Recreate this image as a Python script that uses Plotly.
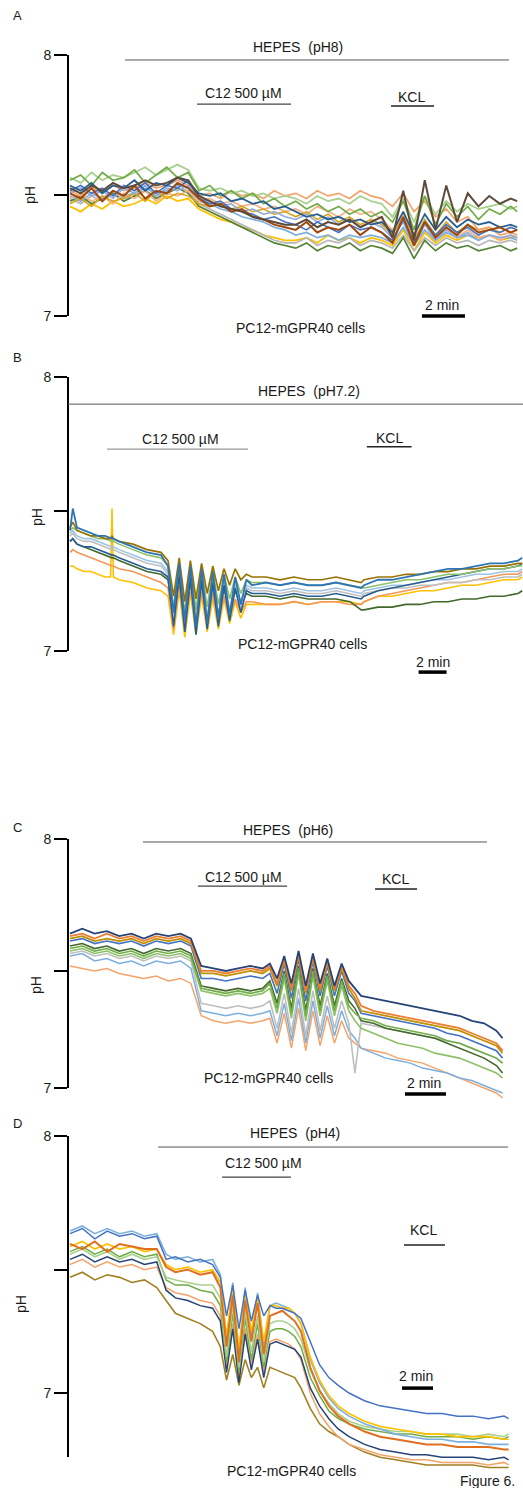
import plotly.graph_objects as go

# ======================= DATA (pH traces) =======================
# ---- Panel A : HEPES pH8 ----
time_a = [0, 0.5, 1, 1.5, 2, 2.5, 3, 3.5, 4, 4.5, 5, 5.5, 6, 6.5, 7, 7.5, 8, 8.5, 9, 9.5, 10,
          10.5, 11, 11.5, 12, 12.5, 13, 13.5, 14, 14.5, 15, 15.5, 16, 16.5, 17, 17.5, 18, 18.5,
          19, 19.5, 20, 20.5, 20.8]
a_green = [7.52,7.54,7.50,7.55,7.52,7.53,7.56,7.51,7.54,7.57,7.53,7.55,7.48,7.50,7.46,7.48,7.45,7.47,7.43,7.45,7.42,7.44,7.41,7.43,7.40,7.42,7.39,7.41,7.38,7.40,7.36,7.44,7.33,7.46,7.35,7.43,7.38,7.42,7.37,7.41,7.39,7.42,7.40]
a_brown = [7.47,7.45,7.49,7.44,7.48,7.46,7.50,7.45,7.48,7.47,7.51,7.49,7.45,7.42,7.43,7.40,7.41,7.38,7.37,7.35,7.34,7.33,7.36,7.32,7.34,7.33,7.35,7.31,7.34,7.32,7.28,7.38,7.27,7.36,7.30,7.34,7.31,7.35,7.32,7.33,7.34,7.32,7.33]
a_navy = [7.50,7.48,7.51,7.47,7.50,7.49,7.52,7.48,7.51,7.50,7.53,7.51,7.47,7.46,7.47,7.44,7.45,7.43,7.44,7.41,7.42,7.40,7.38,7.39,7.37,7.38,7.36,7.37,7.35,7.36,7.32,7.40,7.31,7.39,7.33,7.38,7.34,7.37,7.35,7.36,7.34,7.35,7.34]
a_yellow = [7.42,7.40,7.43,7.41,7.44,7.42,7.43,7.45,7.43,7.46,7.44,7.45,7.41,7.39,7.37,7.36,7.34,7.33,7.31,7.30,7.29,7.29,7.30,7.28,7.31,7.29,7.30,7.28,7.30,7.29,7.27,7.33,7.25,7.32,7.28,7.31,7.29,7.31,7.30,7.31,7.29,7.30,7.30]
a_gray = [7.45,7.43,7.46,7.44,7.47,7.45,7.46,7.48,7.46,7.47,7.49,7.48,7.43,7.41,7.39,7.37,7.35,7.33,7.31,7.29,7.28,7.28,7.30,7.27,7.29,7.28,7.30,7.27,7.29,7.28,7.26,7.31,7.25,7.30,7.27,7.30,7.28,7.29,7.27,7.29,7.28,7.29,7.28]
a_orange = [7.48,7.46,7.49,7.47,7.50,7.48,7.49,7.51,7.49,7.50,7.52,7.50,7.46,7.47,7.45,7.48,7.46,7.47,7.45,7.48,7.46,7.47,7.45,7.48,7.46,7.47,7.45,7.48,7.46,7.45,7.42,7.47,7.40,7.44,7.38,7.41,7.36,7.38,7.33,7.34,7.31,7.32,7.31]
a_lightblue = [7.46,7.44,7.47,7.45,7.48,7.46,7.47,7.49,7.47,7.48,7.50,7.49,7.44,7.43,7.41,7.40,7.38,7.37,7.36,7.34,7.33,7.31,7.32,7.30,7.31,7.29,7.31,7.30,7.31,7.30,7.28,7.34,7.27,7.33,7.29,7.32,7.30,7.31,7.29,7.31,7.30,7.30,7.29]
a_darkgray = [7.49,7.47,7.50,7.48,7.51,7.49,7.50,7.52,7.50,7.51,7.53,7.52,7.46,7.44,7.42,7.41,7.40,7.38,7.37,7.36,7.35,7.35,7.37,7.34,7.36,7.35,7.37,7.34,7.36,7.38,7.30,7.48,7.29,7.52,7.33,7.50,7.36,7.47,7.42,7.46,7.43,7.45,7.44]
a_lightgreen = [7.53,7.51,7.55,7.52,7.54,7.53,7.55,7.57,7.54,7.56,7.58,7.56,7.49,7.48,7.49,7.47,7.48,7.46,7.47,7.45,7.46,7.45,7.43,7.46,7.44,7.45,7.43,7.46,7.44,7.43,7.38,7.45,7.36,7.46,7.39,7.44,7.40,7.43,7.41,7.42,7.43,7.41,7.42]
a_darkgreen = [7.44,7.46,7.43,7.45,7.47,7.44,7.46,7.48,7.45,7.47,7.49,7.47,7.42,7.40,7.38,7.36,7.34,7.32,7.30,7.28,7.27,7.26,7.28,7.25,7.27,7.26,7.28,7.25,7.27,7.26,7.24,7.30,7.22,7.29,7.25,7.28,7.26,7.27,7.25,7.26,7.27,7.25,7.26]
a_blue = [7.48,7.50,7.47,7.49,7.46,7.50,7.48,7.51,7.47,7.50,7.49,7.52,7.45,7.43,7.44,7.41,7.40,7.39,7.37,7.38,7.36,7.35,7.33,7.36,7.34,7.32,7.35,7.33,7.34,7.32,7.29,7.37,7.28,7.36,7.31,7.35,7.32,7.34,7.31,7.33,7.32,7.34,7.33]
a_salmon = [7.45,7.47,7.44,7.46,7.43,7.47,7.45,7.48,7.44,7.47,7.46,7.48,7.44,7.45,7.43,7.44,7.42,7.43,7.41,7.42,7.40,7.41,7.39,7.42,7.40,7.38,7.41,7.39,7.40,7.37,7.33,7.39,7.30,7.36,7.31,7.34,7.30,7.33,7.30,7.31,7.29,7.31,7.30]
a_gold = [7.43,7.45,7.42,7.46,7.44,7.45,7.47,7.44,7.48,7.45,7.47,7.46,7.43,7.42,7.43,7.41,7.42,7.40,7.41,7.39,7.40,7.38,7.40,7.37,7.39,7.36,7.38,7.35,7.37,7.35,7.31,7.38,7.29,7.37,7.31,7.36,7.32,7.35,7.33,7.34,7.32,7.34,7.33]
a_steel = [7.47,7.49,7.46,7.48,7.45,7.49,7.47,7.50,7.46,7.49,7.48,7.50,7.45,7.44,7.42,7.43,7.40,7.41,7.39,7.40,7.38,7.37,7.39,7.36,7.38,7.35,7.37,7.34,7.36,7.34,7.30,7.36,7.27,7.35,7.29,7.33,7.30,7.32,7.29,7.31,7.30,7.31,7.30]

# ---- Panel B : HEPES pH7.2 ----
time_b = [0, 0.2, 0.5, 1.0, 1.5, 2.0, 2.5, 2.9, 3.0, 3.1, 3.5, 4.5, 5.5, 6.5, 7.0, 7.4, 7.8, 8.2,
          8.6, 9.0, 9.4, 9.8, 10.2, 10.6, 11.0, 11.4, 11.8, 12.2, 12.6, 13.0, 14, 15, 16, 17, 18,
          19, 20, 20.8, 21, 22, 23, 24, 25, 26, 27, 28, 29, 30, 31, 32, 32.3]
b_olive = [7.45,7.47,7.44,7.43,7.42,7.42,7.41,7.41,7.42,7.41,7.40,7.39,7.37,7.36,7.33,7.20,7.34,7.18,7.33,7.19,7.32,7.21,7.31,7.22,7.30,7.24,7.30,7.26,7.28,7.27,7.27,7.26,7.27,7.26,7.26,7.27,7.26,7.25,7.26,7.27,7.27,7.28,7.28,7.29,7.29,7.30,7.30,7.31,7.31,7.32,7.32]
b_blue = [7.44,7.52,7.45,7.44,7.43,7.42,7.42,7.41,7.41,7.41,7.40,7.38,7.36,7.35,7.31,7.14,7.32,7.11,7.31,7.09,7.30,7.10,7.29,7.12,7.28,7.13,7.27,7.17,7.26,7.24,7.25,7.24,7.25,7.24,7.24,7.25,7.24,7.23,7.24,7.26,7.26,7.27,7.28,7.29,7.30,7.30,7.31,7.32,7.32,7.33,7.34]
b_yellow = [7.31,7.31,7.30,7.29,7.29,7.28,7.27,7.27,7.52,7.27,7.26,7.25,7.23,7.22,7.20,7.06,7.22,7.05,7.21,7.06,7.20,7.07,7.19,7.08,7.19,7.10,7.18,7.12,7.17,7.17,7.17,7.17,7.18,7.17,7.18,7.18,7.18,7.17,7.18,7.20,7.20,7.21,7.22,7.22,7.23,7.24,7.24,7.25,7.26,7.26,7.27]
b_orange = [7.36,7.37,7.36,7.35,7.34,7.33,7.32,7.31,7.31,7.31,7.30,7.29,7.27,7.25,7.23,7.08,7.24,7.07,7.23,7.08,7.22,7.09,7.21,7.10,7.20,7.12,7.19,7.14,7.18,7.18,7.17,7.17,7.18,7.17,7.18,7.18,7.17,7.17,7.18,7.20,7.21,7.22,7.23,7.24,7.25,7.25,7.26,7.27,7.28,7.28,7.29]
b_gray = [7.42,7.43,7.41,7.40,7.40,7.39,7.38,7.37,7.37,7.37,7.36,7.34,7.32,7.31,7.28,7.12,7.29,7.10,7.28,7.11,7.27,7.12,7.26,7.13,7.25,7.15,7.24,7.18,7.23,7.22,7.22,7.21,7.22,7.21,7.21,7.22,7.21,7.20,7.21,7.22,7.23,7.23,7.24,7.24,7.25,7.25,7.26,7.26,7.27,7.27,7.28]
b_darkgreen = [7.40,7.41,7.39,7.38,7.37,7.36,7.35,7.34,7.34,7.34,7.33,7.31,7.29,7.28,7.26,7.11,7.27,7.09,7.26,7.10,7.25,7.11,7.24,7.12,7.23,7.14,7.22,7.17,7.21,7.20,7.20,7.19,7.20,7.19,7.19,7.19,7.18,7.15,7.15,7.16,7.16,7.17,7.17,7.18,7.18,7.19,7.19,7.20,7.20,7.21,7.22]
b_lightblue = [7.43,7.44,7.42,7.41,7.41,7.40,7.39,7.38,7.38,7.38,7.37,7.35,7.33,7.32,7.29,7.10,7.30,7.08,7.29,7.07,7.28,7.09,7.27,7.10,7.26,7.12,7.25,7.15,7.24,7.23,7.23,7.22,7.23,7.22,7.22,7.23,7.22,7.21,7.22,7.23,7.24,7.24,7.25,7.26,7.26,7.27,7.28,7.28,7.29,7.29,7.30]
b_green = [7.44,7.45,7.44,7.43,7.42,7.41,7.41,7.40,7.40,7.40,7.39,7.37,7.35,7.34,7.31,7.16,7.32,7.14,7.31,7.15,7.30,7.16,7.29,7.17,7.28,7.19,7.27,7.21,7.26,7.25,7.25,7.24,7.25,7.24,7.24,7.25,7.24,7.23,7.23,7.24,7.25,7.26,7.26,7.27,7.28,7.28,7.29,7.30,7.30,7.31,7.31]
b_navy = [7.40,7.41,7.39,7.38,7.38,7.37,7.36,7.35,7.35,7.35,7.34,7.32,7.30,7.29,7.27,7.09,7.28,7.07,7.27,7.06,7.26,7.08,7.25,7.09,7.24,7.11,7.23,7.14,7.22,7.21,7.21,7.20,7.21,7.20,7.20,7.21,7.20,7.19,7.20,7.22,7.23,7.24,7.25,7.26,7.27,7.28,7.29,7.30,7.30,7.31,7.32]

# ---- Panel C : HEPES pH6 ----
time_c = [0, 0.6, 1.2, 1.8, 2.4, 3.0, 3.6, 4.2, 4.8, 5.4, 5.9, 6.4, 7.0, 7.6, 8.2, 8.8, 9.4,
          9.75, 10.1, 10.45, 10.8, 11.15, 11.5, 11.85, 12.2, 12.55, 12.9, 13.25, 13.6, 13.9,
          14.2, 14.8, 15.4, 16.0, 16.6, 17.2, 17.8, 18.4, 19.0, 19.6, 20.2, 20.8, 21.1]
c_navy = [7.62,7.64,7.62,7.63,7.61,7.62,7.60,7.62,7.61,7.62,7.60,7.49,7.48,7.47,7.48,7.49,7.48,7.50,7.44,7.53,7.42,7.55,7.41,7.54,7.42,7.52,7.41,7.50,7.43,7.40,7.37,7.36,7.35,7.34,7.33,7.32,7.31,7.30,7.29,7.27,7.26,7.23,7.20]
c_orange = [7.61,7.62,7.60,7.62,7.60,7.61,7.59,7.61,7.60,7.61,7.59,7.47,7.47,7.46,7.47,7.48,7.47,7.49,7.42,7.52,7.40,7.54,7.39,7.53,7.40,7.51,7.40,7.49,7.41,7.38,7.33,7.31,7.30,7.29,7.28,7.27,7.26,7.25,7.24,7.22,7.20,7.18,7.15]
c_gold = [7.60,7.61,7.59,7.60,7.59,7.60,7.58,7.60,7.59,7.60,7.58,7.46,7.46,7.45,7.46,7.47,7.46,7.48,7.41,7.51,7.39,7.53,7.38,7.52,7.39,7.50,7.39,7.48,7.40,7.36,7.31,7.30,7.29,7.28,7.27,7.26,7.25,7.24,7.23,7.21,7.19,7.17,7.14]
c_green = [7.56,7.57,7.55,7.56,7.54,7.55,7.53,7.55,7.54,7.55,7.53,7.40,7.39,7.38,7.39,7.38,7.39,7.42,7.32,7.46,7.30,7.48,7.29,7.47,7.31,7.45,7.31,7.43,7.33,7.30,7.28,7.27,7.25,7.24,7.23,7.22,7.21,7.19,7.18,7.16,7.14,7.12,7.10]
c_lightgreen = [7.55,7.56,7.54,7.55,7.53,7.54,7.52,7.54,7.53,7.54,7.52,7.39,7.38,7.37,7.38,7.37,7.38,7.40,7.30,7.44,7.28,7.46,7.27,7.45,7.29,7.43,7.29,7.41,7.31,7.27,7.24,7.22,7.20,7.18,7.17,7.16,7.14,7.13,7.12,7.10,7.08,7.06,7.04]
c_gray = [7.54,7.55,7.53,7.54,7.52,7.53,7.51,7.53,7.52,7.53,7.51,7.34,7.33,7.32,7.33,7.32,7.33,7.35,7.24,7.38,7.22,7.40,7.21,7.39,7.23,7.37,7.24,7.35,7.26,7.06,7.26,7.25,7.24,7.23,7.22,7.21,7.20,7.19,7.18,7.16,7.14,7.12,7.10]
c_lightblue = [7.53,7.54,7.51,7.52,7.50,7.51,7.49,7.51,7.50,7.51,7.48,7.31,7.30,7.29,7.30,7.29,7.30,7.31,7.21,7.34,7.19,7.36,7.18,7.35,7.20,7.33,7.21,7.31,7.23,7.20,7.16,7.14,7.12,7.11,7.10,7.08,7.07,7.06,7.04,7.03,7.01,6.99,6.98]
c_salmon = [7.49,7.48,7.47,7.48,7.46,7.45,7.44,7.45,7.43,7.44,7.42,7.29,7.27,7.26,7.27,7.26,7.27,7.28,7.18,7.30,7.16,7.32,7.15,7.31,7.17,7.29,7.18,7.27,7.20,7.18,7.16,7.15,7.14,7.12,7.11,7.10,7.08,7.06,7.04,7.02,7.00,6.98,6.96]
c_darkgreen = [7.57,7.58,7.56,7.57,7.55,7.56,7.54,7.56,7.55,7.56,7.54,7.41,7.40,7.39,7.40,7.39,7.40,7.43,7.34,7.47,7.32,7.49,7.31,7.48,7.33,7.46,7.33,7.44,7.35,7.32,7.27,7.26,7.24,7.23,7.22,7.21,7.20,7.18,7.16,7.14,7.12,7.09,7.06]
c_blue = [7.59,7.60,7.58,7.59,7.58,7.59,7.57,7.59,7.58,7.59,7.57,7.44,7.44,7.43,7.44,7.45,7.44,7.46,7.38,7.50,7.36,7.52,7.35,7.51,7.37,7.49,7.37,7.47,7.38,7.35,7.30,7.29,7.28,7.27,7.26,7.25,7.24,7.22,7.21,7.19,7.17,7.15,7.12]

# ---- Panel D : HEPES pH4 ----
time_d = [0, 0.8, 1.6, 2.4, 3.2, 4.0, 4.8, 5.6, 6.2, 6.8, 7.6, 8.4, 9.2, 9.7, 10.1, 10.5, 10.9,
          11.3, 11.7, 12.1, 12.5, 12.9, 13.3, 13.7, 14.1, 14.5, 14.9, 15.5, 16.1, 16.7, 17.3,
          18, 19, 20, 21, 22, 23, 24, 25, 26, 27, 28, 28.3]
d_blue = [7.62,7.64,7.60,7.63,7.61,7.62,7.60,7.61,7.52,7.53,7.51,7.52,7.50,7.45,7.30,7.42,7.25,7.40,7.28,7.38,7.30,7.34,7.33,7.33,7.32,7.31,7.29,7.20,7.11,7.06,7.03,7.00,6.97,6.95,6.94,6.93,6.92,6.92,6.91,6.91,6.90,6.91,6.90]
d_orange = [7.58,7.56,7.59,7.55,7.58,7.57,7.56,7.56,7.49,7.47,7.48,7.46,7.47,7.41,7.18,7.38,7.12,7.36,7.20,7.35,7.15,7.30,7.31,7.32,7.30,7.28,7.24,7.10,7.01,6.95,6.91,6.88,6.85,6.83,6.82,6.81,6.80,6.80,6.79,6.79,6.79,6.78,6.78]
d_gold = [7.45,7.47,7.44,7.46,7.45,7.43,7.44,7.41,7.36,7.31,7.29,7.27,7.24,7.18,7.05,7.15,7.03,7.13,7.06,7.10,7.02,7.10,7.09,7.08,7.07,7.06,7.02,6.94,6.88,6.85,6.83,6.80,6.77,6.75,6.74,6.73,6.72,6.72,6.72,6.72,6.71,6.71,6.71]
d_lightblue = [7.63,7.65,7.62,7.64,7.62,7.63,7.61,7.62,7.54,7.52,7.53,7.51,7.52,7.46,7.20,7.43,7.15,7.41,7.22,7.39,7.18,7.34,7.35,7.34,7.33,7.31,7.27,7.13,7.04,6.98,6.94,6.91,6.88,6.86,6.84,6.83,6.82,6.82,6.81,6.81,6.80,6.80,6.80]
d_green = [7.55,7.57,7.54,7.56,7.53,7.55,7.53,7.54,7.44,7.42,7.42,7.40,7.39,7.34,7.12,7.31,7.08,7.29,7.13,7.27,7.10,7.24,7.25,7.25,7.24,7.22,7.18,7.06,6.99,6.93,6.90,6.88,6.86,6.85,6.84,6.84,6.83,6.83,6.83,6.82,6.83,6.82,6.83]
d_navy = [7.52,7.54,7.51,7.53,7.51,7.52,7.50,7.51,7.40,7.37,7.36,7.34,7.33,7.28,7.08,7.25,7.04,7.23,7.09,7.21,7.06,7.19,7.20,7.19,7.18,7.17,7.14,7.02,6.95,6.90,6.86,6.83,6.80,6.78,6.77,6.76,6.76,6.75,6.75,6.75,6.74,6.75,6.74]
d_yellow = [7.57,7.59,7.56,7.58,7.56,7.57,7.55,7.56,7.50,7.48,7.49,7.47,7.48,7.43,7.22,7.40,7.17,7.38,7.24,7.37,7.20,7.34,7.34,7.33,7.33,7.31,7.27,7.14,7.05,6.99,6.95,6.92,6.89,6.87,6.86,6.85,6.84,6.84,6.83,6.83,6.83,6.82,6.82]
d_salmon = [7.50,7.52,7.49,7.51,7.49,7.50,7.48,7.49,7.41,7.39,7.38,7.36,7.35,7.30,7.10,7.27,7.06,7.25,7.11,7.23,7.08,7.20,7.21,7.20,7.19,7.17,7.13,7.00,6.92,6.87,6.83,6.80,6.78,6.76,6.75,6.74,6.74,6.73,6.73,6.73,6.72,6.73,6.72]
d_lightgreen = [7.54,7.56,7.53,7.55,7.52,7.54,7.52,7.53,7.45,7.44,7.43,7.42,7.42,7.37,7.14,7.34,7.10,7.32,7.16,7.30,7.12,7.27,7.28,7.28,7.27,7.25,7.21,7.09,7.01,6.96,6.92,6.89,6.87,6.86,6.85,6.85,6.84,6.84,6.84,6.83,6.84,6.83,6.84]

# ---- text ----
panel_letters = ["A", "B", "C", "D"]
buffers = ["HEPES  (pH8)", "HEPES  (pH7.2)", "HEPES  (pH6)", "HEPES  (pH4)"]
drug_label = "C12 500 \u00b5M"
kcl_label = "KCL"
scale_label = "2 min"
cells_label = "PC12-mGPR40 cells"
figure_label = "Figure 6."

# ======================= STYLE / LAYOUT =======================
W, H = 523, 1488
AX_PX, RIGHT_PX = 68, 523
FONT = "Arial, Liberation Sans, sans-serif"

panels = [
    dict(time=time_a, top=30, bottom=335, y8=55, y7=316, x0=70, ppm=21.5, mid=7.464, ybot=7.0,
         traces=[(a_yellow, "#FFC000", 1.8), (a_gray, "#B7B7B7", 1.7), (a_darkgreen, "#548235", 1.7),
                 (a_lightblue, "#7CAFDD", 1.7), (a_salmon, "#F4B183", 1.7), (a_gold, "#D6A520", 1.6),
                 (a_orange, "#F4A46A", 1.7), (a_steel, "#8FAADC", 1.6), (a_lightgreen, "#A9D18E", 1.8),
                 (a_green, "#70AD47", 1.7), (a_blue, "#4472C4", 1.6), (a_navy, "#255E91", 1.8),
                 (a_brown, "#9E480E", 2.0), (a_darkgray, "#5E4A3A", 2.0)],
         hepes=(2.56, 20.42, 7.981), hepes_lab=(10.6, 8.031),
         c12=(5.91, 10.28, 7.812), c12_lab=(8.05, 7.854), c12_col="#444",
         kcl=(14.93, 16.93, 7.805), kcl_lab=(15.9, 7.839),
         scale=(16.37, 18.37, 7.0), scale_lab=(17.3, 7.042),
         cells=(10.74, 6.954), letter_px=(17, 15), ph_px=(30, 195)),
    dict(time=time_b, top=368, bottom=690, y8=377, y7=651, x0=70, ppm=14.0, mid=7.511, ybot=7.0,
         traces=[(b_yellow, "#FFC000", 1.6), (b_orange, "#F1975A", 1.6), (b_darkgreen, "#43682B", 1.6),
                 (b_gray, "#BFBFBF", 1.6), (b_lightblue, "#9DC3E6", 1.6), (b_navy, "#255E91", 1.6),
                 (b_green, "#8CC168", 1.6), (b_olive, "#997300", 1.7), (b_blue, "#2E75B6", 1.8)],
         hepes=(-0.14, 32.4, 7.901), hepes_lab=(17.07, 7.949),
         c12=(2.64, 12.71, 7.737), c12_lab=(7.86, 7.774), c12_col="#999",
         kcl=(21.2, 24.4, 7.745), kcl_lab=(22.8, 7.777),
         scale=(24.9, 26.9, 6.923), scale_lab=(25.9, 6.960),
         cells=(16.6, 7.026), letter_px=(17, 357), ph_px=(37, 517)),
    dict(time=time_c, top=825, bottom=1110, y8=839, y7=1088, x0=70, ppm=20.5, mid=7.470, ybot=7.0,
         traces=[(c_salmon, "#F4A46A", 1.5), (c_lightblue, "#7CAFDD", 1.5), (c_gray, "#BFBFBF", 1.6),
                 (c_lightgreen, "#8CC168", 1.6), (c_darkgreen, "#43682B", 1.6), (c_green, "#70AD47", 1.6),
                 (c_blue, "#4472C4", 1.6), (c_gold, "#BF9000", 1.8), (c_orange, "#ED7D31", 1.8),
                 (c_navy, "#264478", 1.8)],
         hepes=(3.56, 20.34, 7.988), hepes_lab=(10.63, 8.036),
         c12=(6.24, 10.59, 7.811), c12_lab=(8.44, 7.847), c12_col="#444",
         kcl=(14.88, 16.93, 7.799), kcl_lab=(15.9, 7.839),
         scale=(16.34, 18.34, 6.976), scale_lab=(17.27, 7.020),
         cells=(9.7, 7.040), letter_px=(17, 827), ph_px=(36, 985)),
    dict(time=time_d, top=1125, bottom=1480, y8=1136, y7=1393, x0=70, ppm=15.5, mid=7.479, ybot=6.751,
         traces=[(d_gold, "#A08020", 1.6), (d_salmon, "#F4A46A", 1.5), (d_navy, "#264478", 1.5),
                 (d_green, "#70AD47", 1.5), (d_lightgreen, "#A9D18E", 1.6), (d_lightblue, "#7CAFDD", 1.6),
                 (d_yellow, "#FFC000", 1.7), (d_orange, "#E07020", 2.0), (d_blue, "#4472C4", 1.5)],
         hepes=(5.68, 28.26, 7.957), hepes_lab=(14.5, 8.012),
         c12=(9.81, 14.26, 7.840), c12_lab=(12.5, 7.895), c12_col="#444",
         kcl=(21.55, 24.19, 7.576), kcl_lab=(22.8, 7.634),
         scale=(21.42, 23.42, 7.019), scale_lab=(22.3, 7.066),
         cells=(14.3, 6.696), letter_px=(17, 1123), ph_px=(21, 1304)),
]


def paper(xpx, ypx):
    return xpx / W, 1 - ypx / H


fig = go.Figure()
layout = dict(width=W, height=H, margin=dict(l=0, r=0, t=0, b=0), autosize=False,
              paper_bgcolor="white", plot_bgcolor="rgba(0,0,0,0)", showlegend=False,
              font=dict(family=FONT, size=14, color="#1a1a1a"))
shapes, annotations = [], []

for k, p in enumerate(panels):
    sfx = "" if k == 0 else str(k + 1)
    xa, ya = "x" + sfx, "y" + sfx
    for vals, col, w in p["traces"]:
        assert len(vals) == len(p["time"]), (k, len(vals), len(p["time"]))
        fig.add_trace(go.Scatter(x=p["time"], y=vals, mode="lines", xaxis=xa, yaxis=ya,
                                 line=dict(color=col, width=w), hoverinfo="skip"))
    span = p["y7"] - p["y8"]
    ylo = 7 - (p["bottom"] - p["y7"]) / span
    yhi = 8 + (p["y8"] - p["top"]) / span
    layout["xaxis" + sfx] = dict(domain=[AX_PX / W, 1], anchor=ya, visible=False, fixedrange=True,
                                 range=[(AX_PX - p["x0"]) / p["ppm"], (RIGHT_PX - p["x0"]) / p["ppm"]])
    layout["yaxis" + sfx] = dict(domain=[1 - p["bottom"] / H, 1 - p["top"] / H], anchor=xa,
                                 range=[ylo, yhi], showgrid=False, zeroline=False, showline=False,
                                 ticks="outside", ticklen=13, tickwidth=2, tickcolor="black",
                                 tickvals=[7, p["mid"], 8], ticktext=["7", "", "8"],
                                 tickfont=dict(size=14, color="#1a1a1a"), fixedrange=True)
    # vertical axis line
    shapes.append(dict(type="line", xref=xa + " domain", x0=0, x1=0, yref=ya, y0=p["ybot"], y1=8,
                       line=dict(color="black", width=2)))

    def hbar(seg, col, width):
        shapes.append(dict(type="line", xref=xa, yref=ya, x0=seg[0], x1=seg[1], y0=seg[2], y1=seg[2],
                           line=dict(color=col, width=width)))

    def label(txt, pos, size=14):
        annotations.append(dict(text=txt, xref=xa, yref=ya, x=pos[0], y=pos[1], showarrow=False,
                                xanchor="center", yanchor="middle", font=dict(size=size)))

    hbar(p["hepes"], "#555", 1)
    hbar(p["c12"], p["c12_col"], 1.2)
    hbar(p["kcl"], "#222", 1.5)
    hbar(p["scale"], "black", 3.5)
    label(buffers[k], p["hepes_lab"])
    label(drug_label, p["c12_lab"])
    label(kcl_label, p["kcl_lab"])
    label(scale_label, p["scale_lab"])
    label(cells_label, p["cells"])
    lx, ly = paper(*p["letter_px"])
    annotations.append(dict(text=panel_letters[k], xref="paper", yref="paper", x=lx, y=ly,
                            showarrow=False, xanchor="center", yanchor="middle", font=dict(size=13)))
    hx, hy = paper(*p["ph_px"])
    annotations.append(dict(text="pH", xref="paper", yref="paper", x=hx, y=hy, textangle=-90,
                            showarrow=False, xanchor="center", yanchor="middle", font=dict(size=14)))

fx, fy = paper(517, 1481)
annotations.append(dict(text=figure_label, xref="paper", yref="paper", x=fx, y=fy, showarrow=False,
                        xanchor="right", yanchor="middle", font=dict(size=14)))

layout["shapes"] = shapes
layout["annotations"] = annotations
fig.update_layout(**layout)
fig.write_html("out.html", config={"displayModeBar": False},
               post_script="document.body.style.margin='0';document.body.style.overflow='hidden';")
